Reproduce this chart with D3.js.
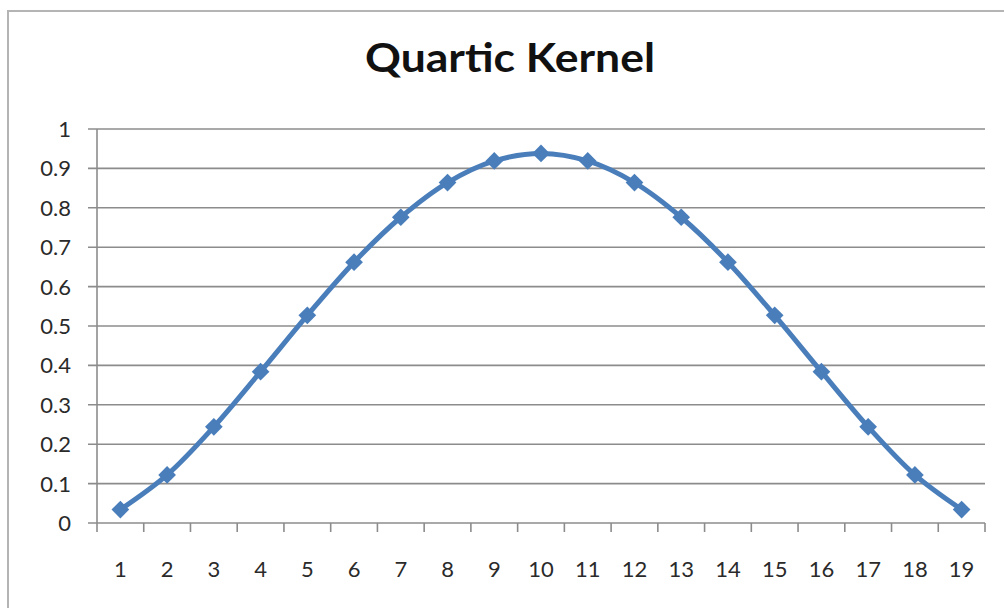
<!DOCTYPE html>
<html>
<head>
<meta charset="utf-8">
<script src="https://cdn.jsdelivr.net/npm/d3@7"></script>
<style>
  html, body { margin: 0; padding: 0; background: #fff; }
  svg { display: block; }
</style>
</head>
<body>
<svg id="chart" width="1004" height="608"></svg>
<script>
// Quartic kernel weights at 19 evenly spaced sample positions
const categories = ["1","2","3","4","5","6","7","8","9","10","11","12","13","14","15","16","17","18","19"];
const weights = [0.034, 0.122, 0.244, 0.384, 0.527, 0.662, 0.776, 0.864, 0.919, 0.938,
                 0.919, 0.864, 0.776, 0.662, 0.527, 0.384, 0.244, 0.122, 0.034];
const yTicks = [0, 0.1, 0.2, 0.3, 0.4, 0.5, 0.6, 0.7, 0.8, 0.9, 1];
const titleText = "Quartic Kernel";

const svg = d3.select("#chart");
const font = "Lato, 'Open Sans', sans-serif";
const gridColor = "#8c8c8c";
const lineColor = "#4a7ebb";
const labelColor = "#2a2a2a";

// outer chart frame
svg.append("rect")
  .attr("x", 8).attr("y", 11)
  .attr("width", 1040).attr("height", 640)
  .attr("fill", "#fff")
  .attr("stroke", "#b4b4b4").attr("stroke-width", 2);

const plot = { left: 97, right: 985, top: 129, bottom: 523 };

const x = d3.scaleBand().domain(categories).range([plot.left, plot.right]).padding(0);
const y = d3.scaleLinear().domain([0, 1]).range([plot.bottom, plot.top]);

// horizontal gridlines with left tick stubs
svg.append("g")
  .selectAll("line")
  .data(yTicks)
  .join("line")
  .attr("x1", plot.left - 9).attr("x2", plot.right)
  .attr("y1", d => y(d)).attr("y2", d => y(d))
  .attr("stroke", gridColor).attr("stroke-width", 1.6);

// y axis line
svg.append("line")
  .attr("x1", plot.left).attr("x2", plot.left)
  .attr("y1", plot.top).attr("y2", plot.bottom)
  .attr("stroke", gridColor).attr("stroke-width", 1.6);

// x axis ticks at category boundaries
const boundaries = categories.map(c => x(c)).concat([plot.right]);
svg.append("g")
  .selectAll("line")
  .data(boundaries)
  .join("line")
  .attr("x1", d => d).attr("x2", d => d)
  .attr("y1", plot.bottom).attr("y2", plot.bottom + 9)
  .attr("stroke", gridColor).attr("stroke-width", 1.6);

// y tick labels
svg.append("g")
  .selectAll("text")
  .data(yTicks)
  .join("text")
  .attr("x", 71)
  .attr("y", d => y(d))
  .attr("dy", "0.36em")
  .attr("text-anchor", "end")
  .attr("font-family", font)
  .attr("font-size", 22)
  .attr("fill", labelColor)
  .text(d => d3.format("~g")(d));

// x tick labels
svg.append("g")
  .selectAll("text")
  .data(categories)
  .join("text")
  .attr("x", d => x(d) + x.bandwidth() / 2)
  .attr("y", 569)
  .attr("dy", "0.36em")
  .attr("text-anchor", "middle")
  .attr("font-family", font)
  .attr("font-size", 22)
  .attr("fill", labelColor)
  .text(d => d);

// series line
const line = d3.line()
  .x((d, i) => x(categories[i]) + x.bandwidth() / 2)
  .y(d => y(d))
  .curve(d3.curveCatmullRom.alpha(0.5));

svg.append("path")
  .datum(weights)
  .attr("d", line)
  .attr("fill", "none")
  .attr("stroke", lineColor)
  .attr("stroke-width", 5)
  .attr("stroke-linejoin", "round");

// diamond markers
const diamond = d3.symbol().type(d3.symbolDiamond2).size(200);
svg.append("g")
  .selectAll("path")
  .data(weights)
  .join("path")
  .attr("transform", (d, i) => `translate(${x(categories[i]) + x.bandwidth() / 2},${y(d)})`)
  .attr("d", diamond)
  .attr("fill", lineColor);

// title
const title = svg.append("text")
  .attr("x", 510)
  .attr("y", 72)
  .attr("text-anchor", "middle")
  .attr("font-family", font)
  .attr("font-weight", "bold")
  .attr("font-size", 40)
  .attr("fill", "#111")
  .text(titleText);
const tw = title.node().getComputedTextLength();
if (tw > 0) title.attr("textLength", 290).attr("lengthAdjust", "spacingAndGlyphs");
</script>
</body>
</html>
